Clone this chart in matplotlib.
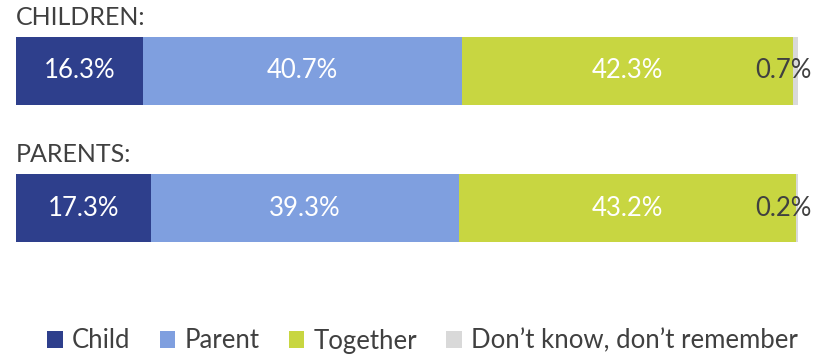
import matplotlib.pyplot as plt
from matplotlib.patches import Patch

groups = ["CHILDREN:", "PARENTS:"]
series = ["Child", "Parent", "Together", "Don\u2019t know, don\u2019t remember"]
values = {
    "Child": [16.3, 17.3],
    "Parent": [40.7, 39.3],
    "Together": [42.3, 43.2],
    "Don\u2019t know, don\u2019t remember": [0.7, 0.2],
}
colors = ["#2E3F8C", "#7F9FDF", "#C8D641", "#D9D9D9"]
label_colors = ["white", "white", "white", "#404040"]

plt.rcParams["font.family"] = ["Lato", "DejaVu Sans"]

W, H = 827, 354
fig = plt.figure(figsize=(W / 100, H / 100), dpi=100)
ax = fig.add_axes([16 / W, 0, 782 / W, 1])

ypos = [0, 1]
bar_h = 0.496
ax.set_xlim(0, 100)
ax.set_ylim(1 + (354 - 208) / 137, -71 / 137)

lefts = [0.0, 0.0]
for s, c, tc in zip(series, colors, label_colors):
    vals = values[s]
    ax.barh(ypos, vals, left=lefts, height=bar_h, color=c, edgecolor="none")
    for i, v in enumerate(vals):
        if s == series[-1]:
            ax.text(lefts[i] + v + 1.7, ypos[i], f"{v:.1f}%", ha="right",
                    va="center", color=tc, fontsize=18.5)
        else:
            ax.text(lefts[i] + v / 2, ypos[i], f"{v:.1f}%", ha="center",
                    va="center", color=tc, fontsize=18.5)
        lefts[i] += v

for g, y in zip(groups, ypos):
    ax.text(0, y - 0.387, g, ha="left", va="center", color="#404040", fontsize=18)

ax.axis("off")

handles = [Patch(facecolor=c, edgecolor="none") for c in colors]
fig.legend(handles, series, loc="center", ncol=4, frameon=False,
           fontsize=18.5, labelcolor="#404040", handlelength=0.6, handleheight=0.6,
           handletextpad=0.35, columnspacing=1.15,
           bbox_to_anchor=(0.5 + 9 / W, 1 - 341 / H))

fig.savefig("out.png", dpi=100)
